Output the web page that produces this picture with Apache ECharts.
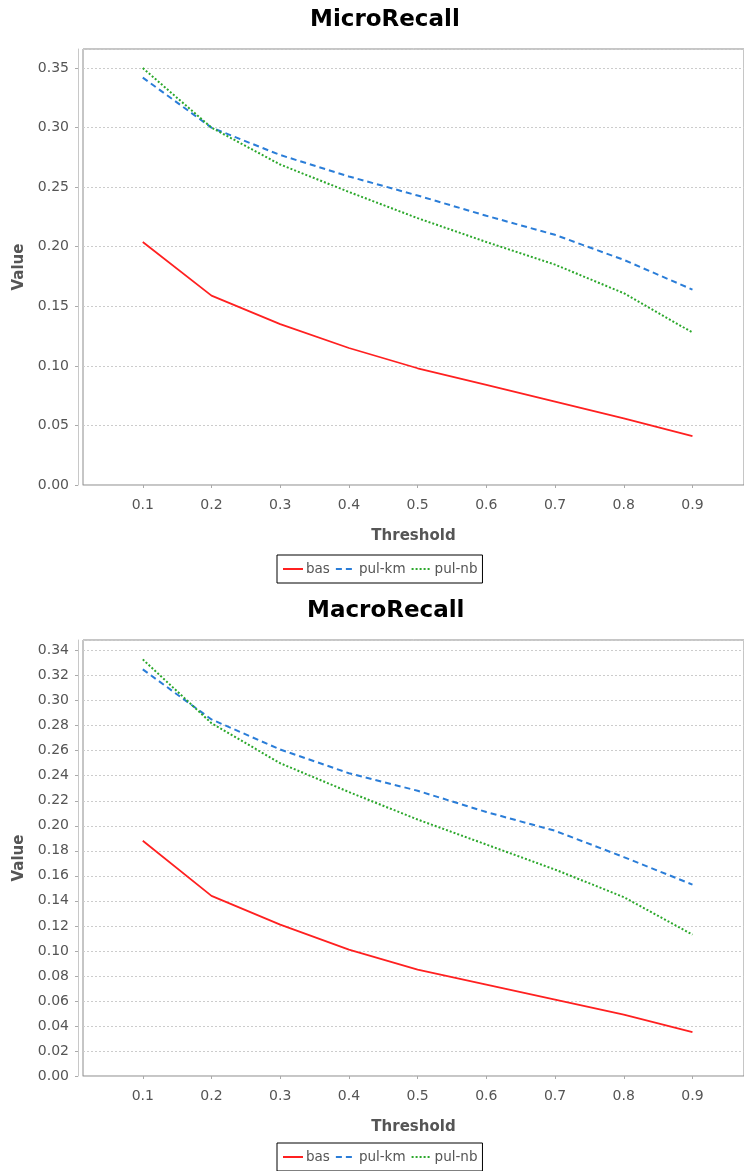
<!DOCTYPE html>
<html><head><meta charset="utf-8">
<script src="https://cdn.jsdelivr.net/npm/echarts@6/dist/echarts.min.js"></script>
<style>html,body{margin:0;padding:0;background:#fff}#c{width:744px;height:1171px}</style>
</head><body><div id="c"></div>
<script>
const thresholds = [0.1, 0.2, 0.3, 0.4, 0.5, 0.6, 0.7, 0.8, 0.9];
const xTickValues = [0.1, 0.2, 0.3, 0.4, 0.5, 0.6, 0.7, 0.8, 0.9];
const seriesNames = ['bas', 'pul-km', 'pul-nb'];
const microBas = [0.204, 0.159, 0.135, 0.115, 0.098, 0.084, 0.070, 0.056, 0.041];
const microKm  = [0.342, 0.300, 0.277, 0.259, 0.243, 0.226, 0.210, 0.189, 0.164];
const microNb  = [0.350, 0.300, 0.269, 0.246, 0.224, 0.204, 0.185, 0.161, 0.128];
const macroBas = [0.188, 0.144, 0.121, 0.101, 0.085, 0.073, 0.061, 0.049, 0.035];
const macroKm  = [0.325, 0.285, 0.261, 0.242, 0.228, 0.211, 0.196, 0.175, 0.153];
const macroNb  = [0.333, 0.282, 0.250, 0.227, 0.205, 0.185, 0.165, 0.143, 0.113];
const titles = ['MicroRecall', 'MacroRecall'];

const colors = ['#ff2020', '#2a7dd8', '#2ca82c'];
const lineTypes = ['solid', [6, 4], [2, 2]];
const FONT = 'DejaVu Sans';

function pairs(vals){ return thresholds.map((t,i)=>[t, vals[i]]); }

const grids = [
  {left: 83, top: 49, right: -2, height: 436, show: true, borderColor: '#8c8c8c', borderWidth: 1, backgroundColor:'#fff'},
  {left: 83, top: 640, right: -2, height: 436, show: true, borderColor: '#8c8c8c', borderWidth: 1, backgroundColor:'#fff'}
];
function xAxis(gi){
  return {
    type: 'value', gridIndex: gi, min: 0.013, max: 0.975, offset: 5,
    name: 'Threshold', nameLocation: 'middle', nameGap: 39,
    nameTextStyle: {fontFamily: FONT, fontSize: 15, fontWeight: 'bold', color: '#555'},
    axisLine: {show: true, lineStyle: {color: '#c8c8c8', width: 1}},
    axisTick: {show: true, length: 3, lineStyle: {color: '#aaa'}, customValues: xTickValues},
    axisLabel: {fontFamily: FONT, fontSize: 14, color: '#555', margin: 8, customValues: xTickValues,
      formatter: v => String(v)},
    splitLine: {show: false}
  };
}
function yAxis(gi, max, interval){
  return {
    type: 'value', gridIndex: gi, min: 0, max: max, interval: interval, offset: 5,
    name: 'Value', nameLocation: 'middle', nameGap: 47,
    nameTextStyle: {fontFamily: FONT, fontSize: 15, fontWeight: 'bold', color: '#555'},
    axisLine: {show: true, lineStyle: {color: '#c8c8c8', width: 1}},
    axisTick: {show: true, length: 3, lineStyle: {color: '#aaa'}},
    axisLabel: {fontFamily: FONT, fontSize: 14, color: '#555', margin: 9, showMaxLabel: false,
      formatter: v => v.toFixed(2)},
    splitLine: {show: true, lineStyle: {color: '#cccccc', type: [2, 2], width: 1}}
  };
}
function mk(name, data, idx, gi){
  return {
    name: name, type: 'line', xAxisIndex: gi, yAxisIndex: gi, data: pairs(data),
    symbol: 'none', legendIcon: 'none', smooth: false, animation: false,
    lineStyle: {color: colors[idx], width: idx === 0 ? 1.8 : 2, type: lineTypes[idx]},
    itemStyle: {color: colors[idx]}
  };
}
const legendBase = {
  orient: 'horizontal', left: 277, itemWidth: 20, itemHeight: 10, itemGap: 5,
  borderColor: '#000', borderWidth: 1, padding: [7, 5, 7, 5],
  itemStyle: {opacity: 0},
  textStyle: {fontFamily: FONT, fontSize: 13.5, color: '#555', padding: [0,0,0,-2]},
  data: seriesNames
};
const option = {
  animation: false,
  backgroundColor: '#fff',
  title: [
    {text: titles[0], left: 305, top: 4, textStyle: {fontFamily: FONT, fontSize: 23, fontWeight: 'bold', color: '#000'}},
    {text: titles[1], left: 302, top: 595, textStyle: {fontFamily: FONT, fontSize: 23, fontWeight: 'bold', color: '#000'}}
  ],
  grid: grids,
  xAxis: [xAxis(0), xAxis(1)],
  yAxis: [yAxis(0, 0.366, 0.05), yAxis(1, 0.3485, 0.02)],
  legend: [
    Object.assign({}, legendBase, {top: 555}),
    Object.assign({}, legendBase, {top: 1143})
  ],
  series: [
    mk(seriesNames[0], microBas, 0, 0),
    mk(seriesNames[1], microKm, 1, 0),
    mk(seriesNames[2], microNb, 2, 0),
    mk(seriesNames[0], macroBas, 0, 1),
    mk(seriesNames[1], macroKm, 1, 1),
    mk(seriesNames[2], macroNb, 2, 1)
  ]
};
const chart = echarts.init(document.getElementById('c'), null, {renderer: 'canvas'});
chart.setOption(option);
</script>
</body></html>
